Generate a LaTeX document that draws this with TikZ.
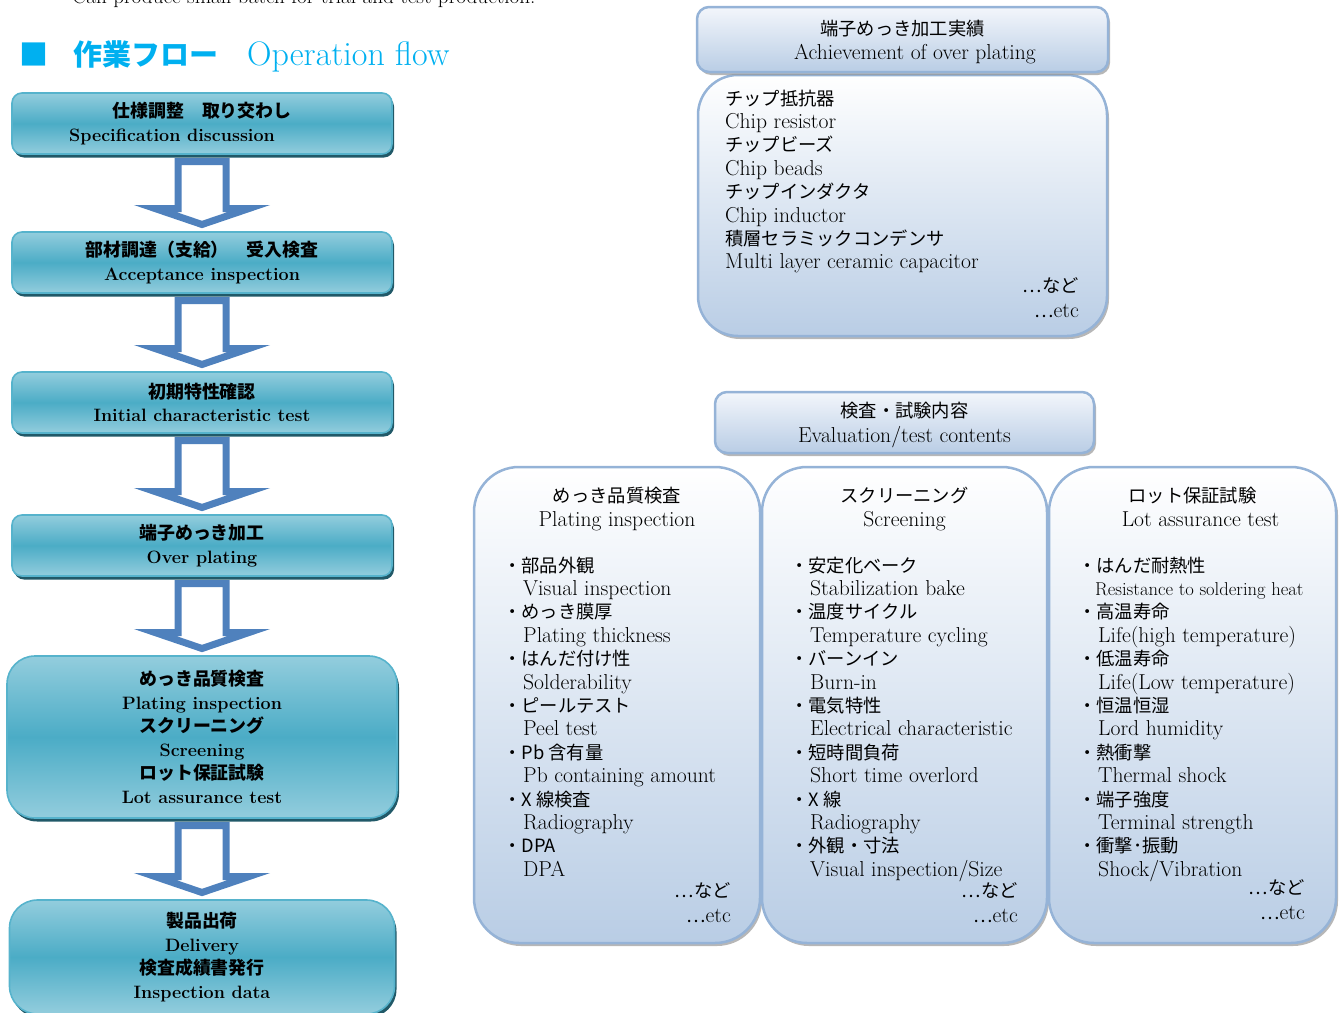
\documentclass[tikz,border=0pt]{standalone}
\usepackage{fontspec}
\newfontfamily\jp{Noto Sans CJK JP}[Scale=0.847]
\newfontfamily\jpb{Noto Sans CJK JP}
\usetikzlibrary{positioning,shadows,calc}
\definecolor{flowlight}{HTML}{93CDDD}
\definecolor{flowmid}{HTML}{4BACC6}
\definecolor{flowedge}{HTML}{56B3CC}
\definecolor{flowshade}{HTML}{215968}
\definecolor{arrowblue}{HTML}{4F81BD}
\definecolor{panelbot}{HTML}{B9CDE5}
\definecolor{paneltop}{HTML}{F3F6FB}
\definecolor{paneledge}{HTML}{95B3D7}
\definecolor{titlecyan}{HTML}{00B0F0}
\newcommand\itm[2]{{\jp ・#1}\\\hspace*{20pt}#2}
\newcommand\flowarrow[2]{%
  \draw[blockarrow] let \p1=(#1.south), \p2=(#2.north) in
    (\x1-24pt,\y1-7.5pt) -- (\x1+24pt,\y1-7.5pt) -- (\x1+24pt,\y2+23.5pt) -- (\x1+47pt,\y2+23.5pt)
    -- (\x1,\y2+7.5pt) -- (\x1-47pt,\y2+23.5pt) -- (\x1-24pt,\y2+23.5pt) -- cycle;}

\begin{document}
\begin{tikzpicture}[x=1pt,y=-1pt,
  flowbox/.style={draw=flowedge,line width=1.6pt,outer sep=0pt,rounded corners=10pt,top color=flowlight,bottom color=flowlight,middle color=flowmid,minimum width=380pt,minimum height=61pt,align=center,inner sep=0pt,font=\fontsize{17.9}{23.5}\selectfont\bfseries,drop shadow={shadow xshift=2pt,shadow yshift=-3.5pt,fill=flowshade,opacity=1}},
  flowbig/.style={flowbox,rounded corners=28pt,minimum width=390pt},
  blockarrow/.style={draw=arrowblue,line width=7pt,fill=white,line join=miter},
  panel/.style={draw=paneledge,line width=2.5pt,outer sep=0pt,top color=white,bottom color=panelbot,drop shadow={shadow xshift=2pt,shadow yshift=-3pt,fill=black!40,opacity=0.7}},
  headpanel/.style={panel,top color=paneltop,rounded corners=12pt,align=center,inner sep=0pt,font=\fontsize{21.6}{24}\selectfont},
  colpanel/.style={panel,rounded corners=45pt,minimum width=286pt,minimum height=476pt},
  coltitle/.style={align=center,inner sep=0pt,font=\fontsize{21.6}{24}\selectfont},
  listtext/.style={align=left,inner sep=0pt,font=\fontsize{21.6}{23.4}\selectfont},
  etcnote/.style={align=right,inner sep=0pt,font=\fontsize{21.6}{23.4}\selectfont}
]
\useasboundingbox (0,0) rectangle (1341,1012);
\node[anchor=base west,inner sep=0pt,font=\fontsize{21.2}{24}\selectfont] (batch) at (72,3) {Can produce small batch for trial and test production.};
\node[anchor=west,inner sep=0pt,text=titlecyan,font=\fontsize{34}{36}\selectfont] (heading) at (19,56) {{\jpb\bfseries\fontsize{29}{36}\selectfont ■\hspace{25pt}作業フロー　}Operation flow};

\node[flowbox] (spec) at (202,123.5) {{\jpb 仕様調整　取り交わし}\\Specification discussion\hspace*{60pt}};
\node[flowbox,below=78pt of spec] (accept) {{\jpb 部材調達（支給）　受入検査}\\Acceptance inspection};
\node[flowbox,below=79pt of accept] (initial) {{\jpb 初期特性確認}\\Initial characteristic test};
\node[flowbox,below=82pt of initial] (overplate) {{\jpb 端子めっき加工}\\Over plating};
\node[flowbig,below=80pt of overplate,minimum height=162pt] (inspect) {{\jpb めっき品質検査}\\Plating inspection\\{\jpb スクリーニング}\\Screening\\{\jpb ロット保証試験}\\Lot assurance test};
\node[flowbig,below=82pt of inspect,minimum height=114pt,minimum width=385pt] (deliver) {{\jpb 製品出荷}\\Delivery\\{\jpb 検査成績書発行}\\Inspection data};
\flowarrow{spec}{accept}
\flowarrow{accept}{initial}
\flowarrow{initial}{overplate}
\flowarrow{overplate}{inspect}
\flowarrow{inspect}{deliver}

\node[panel,rounded corners=40pt,minimum width=409pt,minimum height=261pt] (partsbox) at (902.5,205.5) {};
\node[headpanel,above=3pt of partsbox,minimum width=411pt,minimum height=65pt] (record) {\rule{0pt}{20pt}{\jp 端子めっき加工実績}\\\hspace*{25pt}Achievement of over plating};
\node[listtext,below right=13.6pt and 27pt of partsbox.north west] (parts) {\strut{\jp チップ抵抗器}\\Chip resistor\\{\jp チップビーズ}\\Chip beads\\{\jp チップインダクタ}\\Chip inductor\\{\jp 積層セラミックコンデンサ}\\Multi layer ceramic capacitor};
\node[etcnote,below left=200.6pt and 28pt of partsbox.north east] (partsetc) {\strut{\jp …など}\\[1.6pt]{\jp …}etc};

\node[headpanel,minimum width=379pt,minimum height=61pt] (evalhead) at (904.5,422.5) {\rule{0pt}{20pt}{\jp 検査・試験内容}\\[1pt]Evaluation/test contents};
\node[colpanel] (platecol) at (617,705) {};
\node[colpanel,right=2pt of platecol,minimum width=285pt] (screencol) {};
\node[colpanel,right=2pt of screencol,minimum width=287pt] (lotcol) {};

\node[coltitle,below=18.6pt of platecol.north] (platetitle) {\strut{\jp めっき品質検査}\\Plating inspection};
\node[coltitle,below=18.6pt of screencol.north] (screentitle) {\strut{\jp スクリーニング}\\Screening};
\node[coltitle,below=18.6pt of lotcol.north] (lottitle) {\strut{\jp ロット保証試験}\\\hspace*{16pt}Lot assurance test};

\node[listtext,below right=88.6pt and 29pt of platecol.north west] (platelist) {\strut\itm{部品外観}{Visual inspection}\\
  \itm{めっき膜厚}{Plating thickness}\\
  \itm{はんだ付け性}{Solderability}\\
  \itm{ピールテスト}{Peel test}\\
  \itm{Pb 含有量}{Pb containing amount}\\
  \itm{X 線検査}{Radiography}\\
  \itm{DPA}{DPA}};
\node[listtext,below right=88.6pt and 28pt of screencol.north west] (screenlist) {\strut\itm{安定化ベーク}{Stabilization bake}\\
  \itm{温度サイクル}{Temperature cycling}\\
  \itm{バーンイン}{Burn-in}\\
  \itm{電気特性}{Electrical characteristic}\\
  \itm{短時間負荷}{Short time overlord}\\
  \itm{X 線}{Radiography}\\
  \itm{外観・寸法}{Visual inspection/Size}};
\node[listtext,below right=88.6pt and 29pt of lotcol.north west] (lotlist) {\strut{\jp ・はんだ耐熱性}\\\hspace*{17pt}{\fontsize{18.6}{23.4}\selectfont Resistance to soldering heat}\\
  \itm{高温寿命}{Life(high temperature)}\\
  \itm{低温寿命}{Life(Low temperature)}\\
  \itm{恒温恒湿}{Lord humidity}\\
  \itm{熱衝撃}{Thermal shock}\\
  \itm{端子強度}{Terminal strength}\\
  \itm{衝撃･振動}{Shock/Vibration}};

\node[etcnote,below left=413.6pt and 29pt of platecol.north east] (plateetc) {\strut{\jp …など}\\[1.6pt]{\jp …}etc};
\node[etcnote,below left=413.6pt and 29pt of screencol.north east] (screenetc) {\strut{\jp …など}\\[1.6pt]{\jp …}etc};
\node[etcnote,below left=410.6pt and 31pt of lotcol.north east] (lotetc) {\strut{\jp …など}\\[1.6pt]{\jp …}etc};
\end{tikzpicture}
\end{document}
